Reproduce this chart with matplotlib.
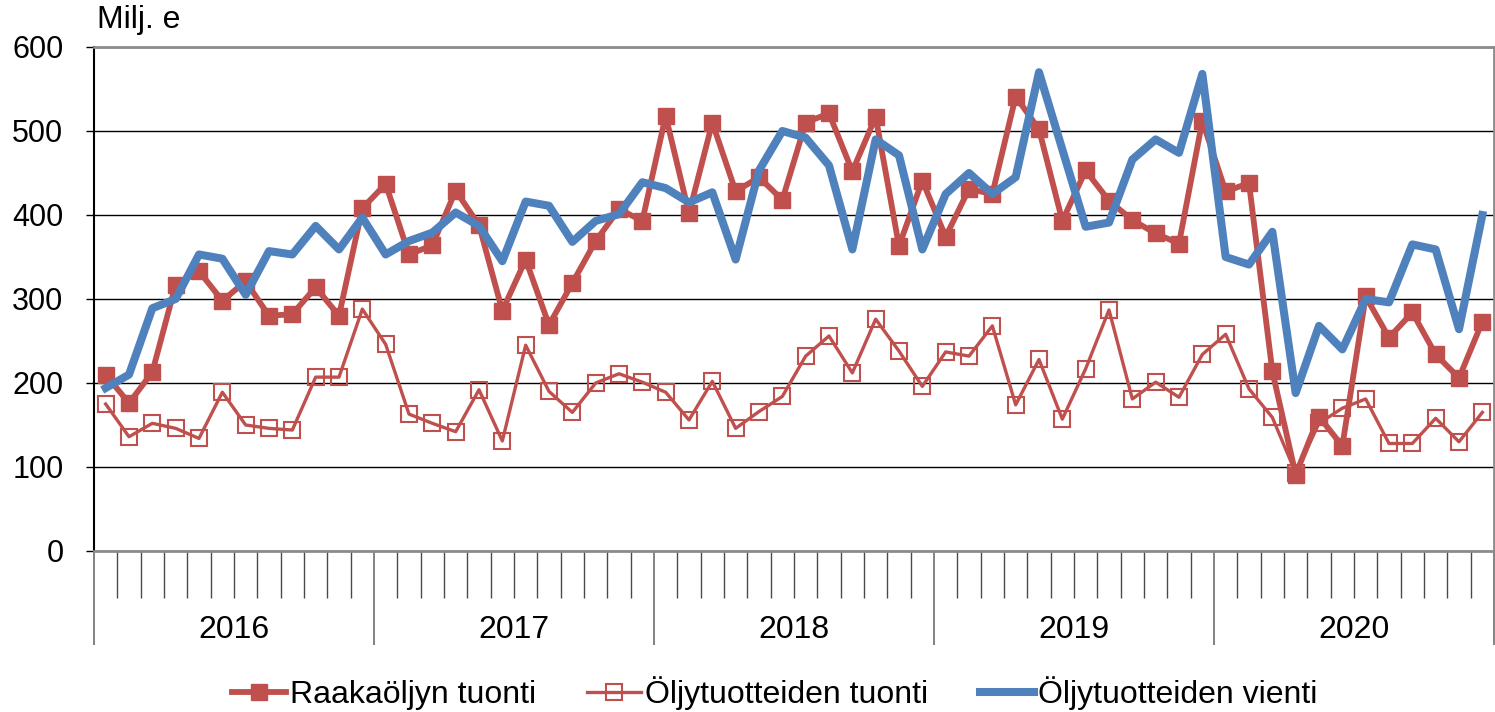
import matplotlib
matplotlib.use("Agg")
import matplotlib.pyplot as plt
import numpy as np

plt.rcParams['font.family'] = ['Liberation Sans', 'DejaVu Sans']

years = ["2016", "2017", "2018", "2019", "2020"]

# Milj. e, monthly 2016-2020
raakaoljy_tuonti = [210, 176, 213, 317, 333, 298, 321, 280, 282, 314, 280, 408,
                    437, 353, 364, 429, 388, 286, 347, 269, 319, 369, 407, 393,
                    518, 402, 510, 428, 445, 418, 510, 521, 452, 517, 363, 441,
                    374, 431, 425, 541, 502, 393, 453, 417, 394, 378, 366, 512,
                    428, 438, 214, 91, 160, 125, 303, 254, 284, 234, 206, 273]
oljytuote_tuonti = [175, 136, 152, 146, 134, 189, 150, 146, 144, 207, 207, 288,
                    246, 163, 152, 142, 192, 131, 245, 190, 165, 200, 211, 201,
                    189, 156, 202, 146, 166, 184, 232, 256, 212, 276, 238, 196,
                    237, 232, 268, 174, 228, 157, 217, 287, 181, 201, 183, 234,
                    258, 193, 159, 93, 152, 170, 181, 128, 128, 158, 130, 165]
oljytuote_vienti = [194, 210, 289, 300, 353, 348, 305, 357, 353, 387, 359, 397,
                    353, 369, 379, 403, 387, 345, 416, 411, 368, 393, 401, 439,
                    432, 415, 427, 347, 453, 500, 492, 459, 359, 490, 471, 359,
                    425, 450, 425, 445, 570, 478, 386, 391, 466, 490, 474, 568,
                    350, 341, 380, 188, 268, 240, 300, 296, 365, 359, 264, 400]

red = "#C0504D"
blue = "#4F81BD"

fig = plt.figure(figsize=(14.95, 7.12), dpi=100)
ax = fig.add_axes([94 / 1495, (712 - 551) / 712, 1400 / 1495, 504 / 712])

x = np.arange(len(raakaoljy_tuonti))

ax.plot(x, raakaoljy_tuonti, color=red, lw=4.2, marker="s", ms=11,
        mfc=red, mec=red, label="Raakaöljyn tuonti", zorder=4)
ax.plot(x, oljytuote_tuonti, color=red, lw=2.4, marker="s", ms=11.5,
        mfc="none", mec=red, mew=1.5, label="Öljytuotteiden tuonti", zorder=3)
ax.plot(x, oljytuote_vienti, color=blue, lw=5.8, solid_joinstyle="round",
        label="Öljytuotteiden vienti", zorder=5)

ax.set_ylim(0, 600)
ax.set_xlim(-0.5, len(x) - 0.5)
ax.set_yticks(range(0, 601, 100))
ax.grid(axis="y", color="black", lw=1)
ax.set_axisbelow(True)

ax.tick_params(axis="y", labelsize=22, length=6, width=1, pad=16, direction="out")
ax.set_xticks(np.arange(-0.5, len(x), 12))
ax.set_xticks(np.arange(-0.5, len(x), 1), minor=True)
ax.set_xticklabels([])
ax.tick_params(axis="x", which="major", length=68, width=1.2, color="#6e6e6e")
ax.tick_params(axis="x", which="minor", length=34, width=1, color="#4a4a4a")

for i, yr in enumerate(years):
    ax.text(i * 12 + 5.5, -0.157, yr, transform=ax.get_xaxis_transform(),
            ha="center", va="center", fontsize=23)

ax.spines["left"].set_color("black")
ax.spines["left"].set_linewidth(1.5)
for s in ["top", "right", "bottom"]:
    ax.spines[s].set_color("#8c8c8c")
    ax.spines[s].set_linewidth(2)

fig.text(97 / 1495, 1 - 20 / 712, "Milj. e", fontsize=23, va="center", ha="left")

fig.legend(loc="center", bbox_to_anchor=(0.518, 19 / 712), ncol=3, frameon=False,
           fontsize=23, handlelength=1.7, handletextpad=0.12, columnspacing=1.6)

fig.savefig("out.png", dpi=100)
